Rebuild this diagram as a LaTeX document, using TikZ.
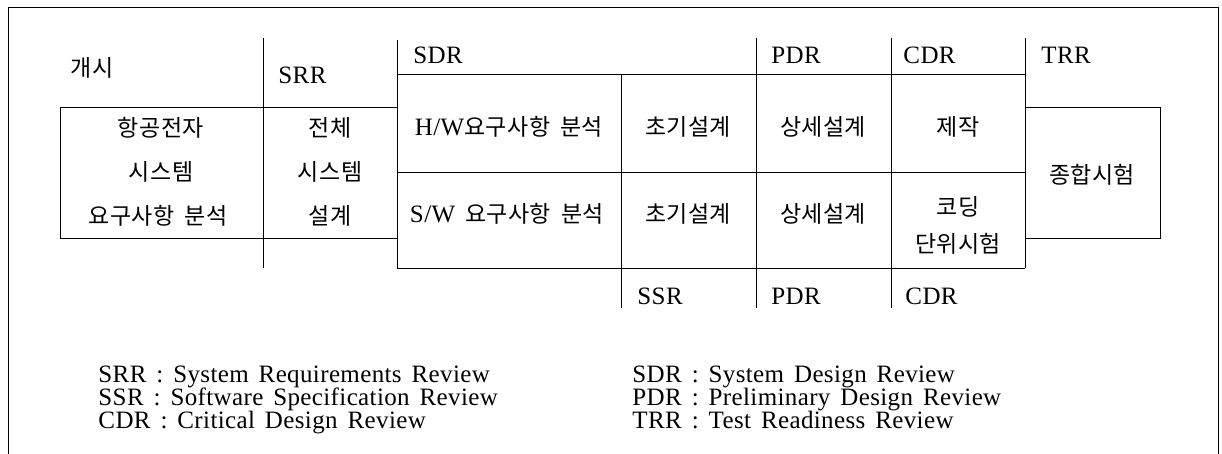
\documentclass[tikz,border=0pt]{standalone}
\usepackage{fontspec}
\setmainfont{Liberation Serif}[LetterSpace=1.5,WordSpace=1.5]
\newfontfamily\kr{Noto Sans CJK KR}[LetterSpace=2,WordSpace=1.8]
\newcommand{\krt}{\kr\fontsize{23}{23}\selectfont}
\begin{document}
\begin{tikzpicture}[x=1pt,y=-1pt,line width=0.9pt,
  lat/.style={font=\fontsize{25}{25}\selectfont,inner sep=0pt},
  kor/.style={font=\krt,inner sep=0pt},
  hdr/.style={lat,anchor=base west},
  leg/.style={lat,anchor=base west}]
\useasboundingbox (0,0) rectangle (1222,454);
% outer frame
\draw (8,454) -- (8,7) -- (1218,7) -- (1218,454);
% vertical dividers
\draw (263,38) -- (263,268);
\draw (397,40) -- (397,268);
\draw (621,74) -- (621,308);
\draw (756,38) -- (756,308);
\draw (891,38) -- (891,308);
\draw (1025,38) -- (1025,268);
% horizontal lines
\draw (397,74) -- (1025,74);
\draw (397,172) -- (1025,172);
\draw (397,268) -- (1025,268);
% left box
\draw (397,107) -- (60,107) -- (60,238) -- (397,238);
% integration test box
\draw (1025,107) -- (1160,107) -- (1160,238) -- (1025,238);
% header labels
\node[kor] (gaesi) at (92,68) {개시};
\node[hdr] (srr) at (278,84) {SRR};
\node[hdr] (sdr) at (413,64) {SDR};
\node[hdr] (pdr) at (771,64) {PDR};
\node[hdr] (cdr) at (903,64) {CDR};
\node[hdr] (trr) at (1041,64) {TRR};
\node[hdr] (ssr2) at (637,304) {SSR};
\node[hdr] (pdr2) at (771,304) {PDR};
\node[hdr] (cdr2) at (905,304) {CDR};
% cells
\node[kor] (a1) at (161,128) {항공전자};
\node[kor] (a2) at (161,172) {시스템};
\node[kor] (a3) at (158,216) {요구사항 분석};
\node[kor] (b1) at (330,128) {전체};
\node[kor] (b2) at (330,172) {시스템};
\node[kor] (b3) at (330,216) {설계};
\node[lat] (hw) at (509,127) {H/W{\krt 요구사항 분석}};
\node[kor] (c1) at (688,127) {초기설계};
\node[kor] (d1) at (823,127) {상세설계};
\node[kor] (e1) at (958,127) {제작};
\node[lat] (sw) at (507,214) {S/W {\krt 요구사항 분석}};
\node[kor] (c2) at (688,214) {초기설계};
\node[kor] (d2) at (823,214) {상세설계};
\node[kor] (e2) at (958,207) {코딩};
\node[kor] (e3) at (958,244) {단위시험};
\node[kor] (t) at (1092,175) {종합시험};
% legend
\node[leg] (l1) at (98,382) {SRR : System Requirements Review};
\node[leg] (l2) at (98,405) {SSR : Software Specification Review};
\node[leg] (l3) at (98,428) {CDR : Critical Design Review};
\node[leg] (r1) at (632,382) {SDR : System Design Review};
\node[leg] (r2) at (632,405) {PDR : Preliminary Design Review};
\node[leg] (r3) at (632,428) {TRR : Test Readiness Review};
\end{tikzpicture}
\end{document}
